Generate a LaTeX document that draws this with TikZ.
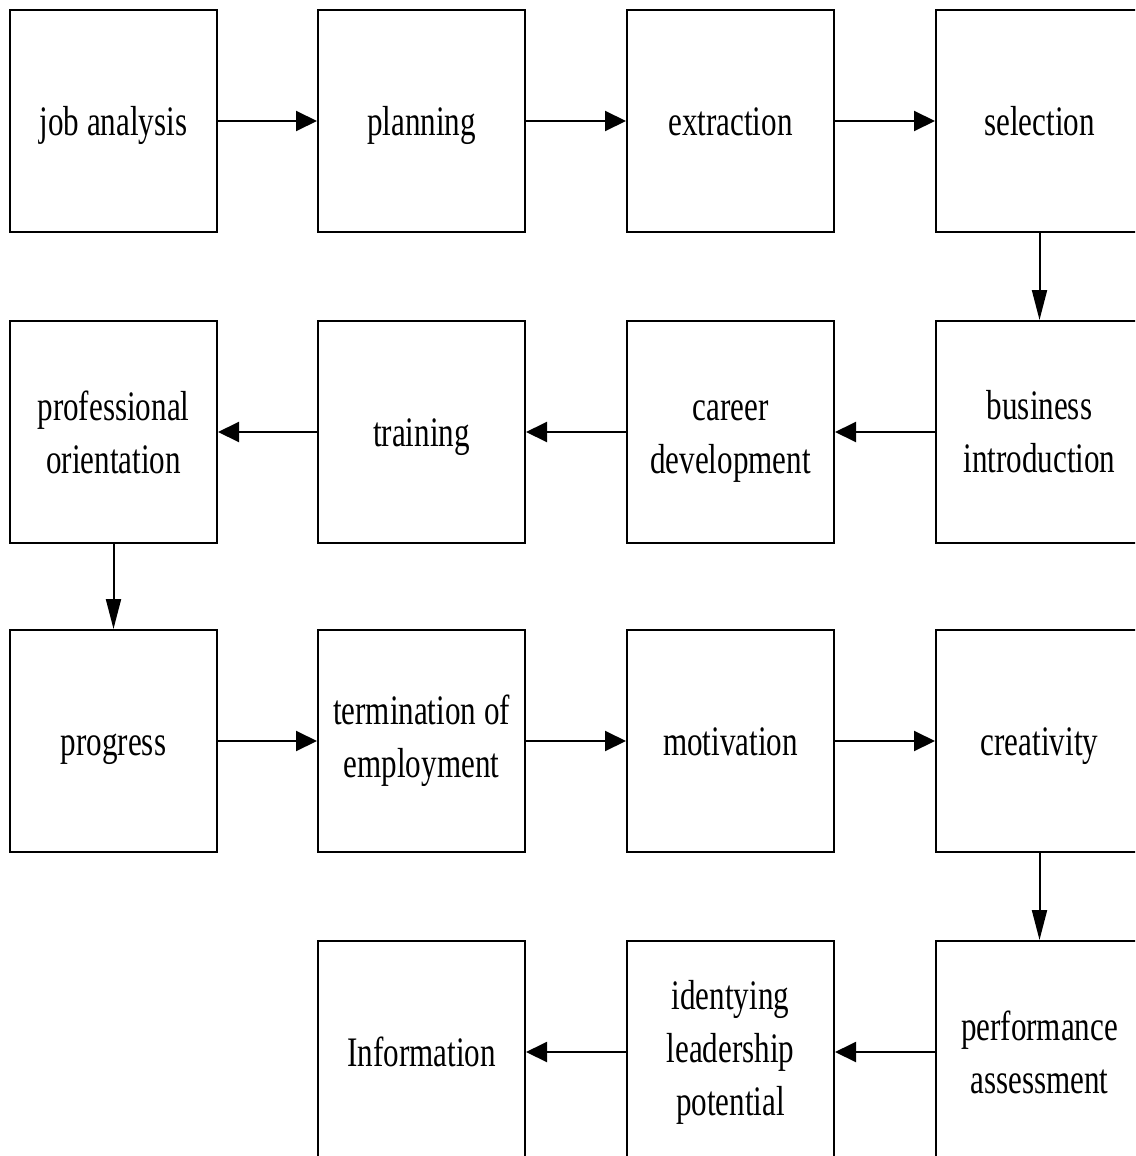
\documentclass[tikz,border=0pt]{standalone}
\usepackage{fontspec}
\setmainfont{Liberation Serif}[FakeStretch=0.74]
\usetikzlibrary{arrows.meta}
\begin{document}
\begin{tikzpicture}[x=0.5pt,y=-0.5pt,
  stage/.style={draw,line width=1pt,minimum width=103.5pt,minimum height=111pt,
    inner sep=2pt,align=center,font=\fontsize{21}{26.5}\selectfont},
  oneline/.style={text height=17pt,text depth=3pt},
  flowh/.style={-{Triangle[length=10.5pt,width=10pt]},line width=1pt},
  flowv/.style={-{Triangle[length=15pt,width=7.5pt]},line width=1pt}]
\clip (0,0) rectangle (1135,1156);
\fill[white] (0,0) rectangle (1135,1156);
% first row, left to right
\node[stage,oneline] (s1) at (113.5,121) {job analysis};
\node[stage,oneline] (s2) at (421.5,121) {planning};
\node[stage,oneline] (s3) at (730.5,121) {extraction};
\node[stage,oneline] (s4) at (1039.5,121) {selection};
% second row, right to left
\node[stage] (s5) at (1039.5,432) {business\\introduction};
\node[stage] (s6) at (730.5,432) {\vphantom{b}career\\\raisebox{0pt}[\height][0pt]{development}};
\node[stage,oneline] (s7) at (421.5,432) {training};
\node[stage] (s8) at (113.5,432) {professional\\orientation};
% third row, left to right
\node[stage,oneline] (s9) at (113.5,741) {progress};
\node[stage] (s10) at (421.5,741) {termination of\\employment};
\node[stage,oneline] (s11) at (730.5,741) {motivation};
\node[stage,oneline] (s12) at (1039.5,741) {creativity};
% fourth row, right to left
\node[stage] (s13) at (1039.5,1052) {performance\\assessment};
\node[stage] (s14) at (730.5,1052) {identying\\leadership\\potential};
\node[stage,oneline] (s15) at (421.5,1052) {Information};
% connectors
\draw[flowh] (s1) -- (s2);
\draw[flowh] (s2) -- (s3);
\draw[flowh] (s3) -- (s4);
\draw[flowv] (s4) -- (s5);
\draw[flowh] (s5) -- (s6);
\draw[flowh] (s6) -- (s7);
\draw[flowh] (s7) -- (s8);
\draw[flowv] (s8) -- (s9);
\draw[flowh] (s9) -- (s10);
\draw[flowh] (s10) -- (s11);
\draw[flowh] (s11) -- (s12);
\draw[flowv] (s12) -- (s13);
\draw[flowh] (s13) -- (s14);
\draw[flowh] (s14) -- (s15);
\end{tikzpicture}
\end{document}
